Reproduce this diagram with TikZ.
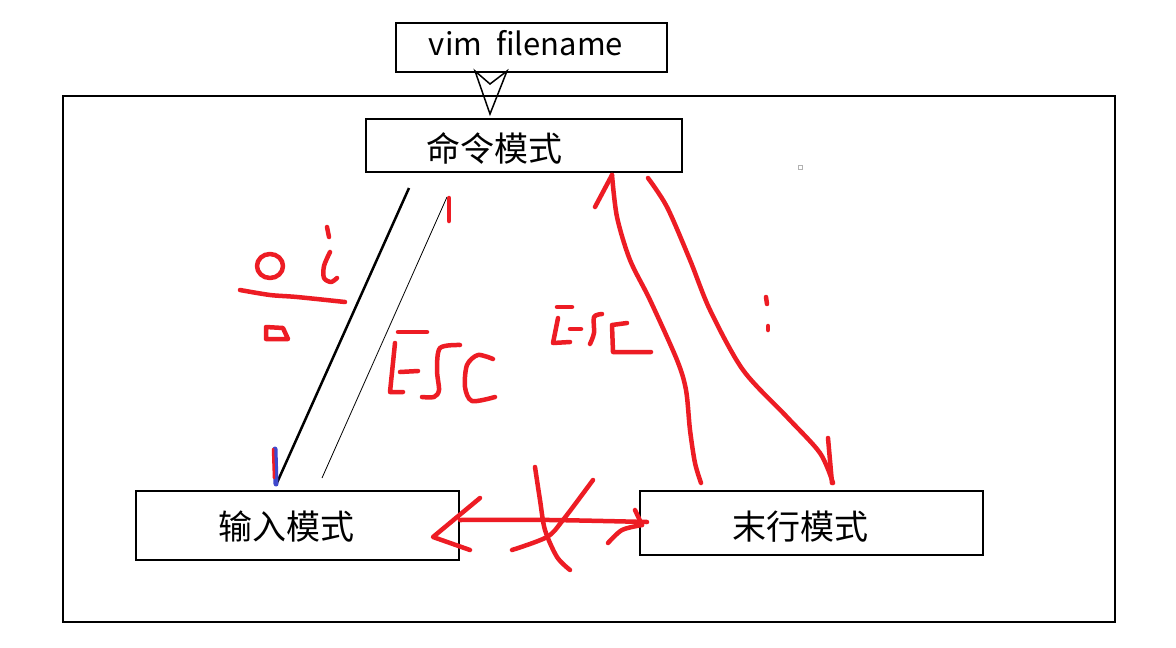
\documentclass[tikz,border=0pt]{standalone}
\usepackage{fontspec}
\setmainfont{Noto Sans CJK SC}
\begin{document}
\begin{tikzpicture}[x=1pt,y=-1pt,
  box/.style={draw=black,line width=2pt,inner sep=0pt},
  lbl/.style={inner sep=0pt,font=\fontsize{34}{34}\selectfont},
  ink/.style={draw=pred,line width=4.5pt,line cap=round,line join=round}]
\definecolor{pred}{RGB}{237,28,36}
\definecolor{pblue}{RGB}{63,72,204}
\useasboundingbox[fill=white] (0,0) rectangle (1176,648);
% frame
\node[box,minimum width=1052pt,minimum height=526pt] (frame) at (589,359) {};
% boxes
\node[box,minimum width=271pt,minimum height=49pt,fill=white] (vim) at (531.5,47.5) {};
\node[lbl,font=\fontsize{31}{31}\selectfont] (vimt) at (526,43) {vim\ \ filename};
\node[box,minimum width=316pt,minimum height=53pt] (cmd) at (524,145.5) {};
\node[lbl] (cmdt) at (494,148) {命令模式};
\node[box,minimum width=323pt,minimum height=69pt] (ins) at (297.5,525.5) {};
\node[lbl] (inst) at (286,527) {输入模式};
\node[box,minimum width=343pt,minimum height=64pt] (last) at (811.5,523) {};
\node[lbl] (lastt) at (800,527) {末行模式};
% open arrow under vim
\draw[line width=1.5pt,line join=miter] (475,71) -- (490,84) -- (507,71) -- (490,114) -- cycle;
% black lines
\coordinate (a1) at (409,188); \coordinate (a2) at (276,485);
\coordinate (b1) at (447,197); \coordinate (b2) at (322,478);
\draw[line width=2.5pt] (a1) -- (a2);
\draw[line width=0.8pt] (b1) -- (b2);
% blue/red tick
\draw[pblue,line width=5pt,line cap=round] (275,449) -- (276,484);
\draw[pred,line width=2.5pt,line cap=round] (273,449) -- (274,478);
% red tick at top of thin line
\draw[ink] (449,198) -- (449,221);
% o i / a
\draw[ink] (270,266) ellipse (13pt and 12pt);
\draw[ink] (327,227) -- (329,237);
\draw[ink] plot[smooth] coordinates {(330,252) (324,266) (324,278) (331,282) (337,278)};
\draw[ink] plot[smooth] coordinates {(240,290) (270,295) (297,297) (345,302)};
\draw[ink] (266,327) -- (283,328) -- (288,339) -- (266,339) -- cycle;
% big ESC
\draw[ink] (398,332) -- (427,332);
\draw[ink] (395,343) -- (390,392) -- (403,392);
\draw[ink] (400,372) -- (418,371);
\draw[ink] plot[smooth] coordinates {(460,345) (440,348) (437,370) (439,390) (434,397) (422,397)};
\draw[ink] plot[smooth] coordinates {(493,359) (478,355) (467,365) (465,387) (472,401) (495,397)};
% small ESC
\draw[ink] (557,307) -- (572,307);
\draw[ink] (558,318) -- (553,343) -- (570,342);
\draw[ink] (570,329) -- (581,329);
\draw[ink] plot[smooth] coordinates {(602,314) (594,317) (594,333) (590,344)};
\draw[ink] (627,323) -- (612,325) -- (613,352) -- (651,352);
% up arrow to cmd
\draw[ink] plot[smooth] coordinates {(701,483) (695,463) (690,430) (686,390) (677,360) (650,300) (630,260) (617,217) (612,175)};
\draw[ink] (612,175) -- (595,207);
% down arrow to last
\draw[ink] plot[smooth] coordinates {(648,178) (667,207) (690,260) (710,310) (743,370) (787,417) (820,453) (833,483)};
\draw[ink] (828,438) -- (832,483);
% colon
\draw[ink] (766,297) -- (767,304);
\draw[ink] (768,326) -- (768,330);
% bottom double arrow
\draw[ink] plot[smooth] coordinates {(460,520) (550,520) (647,522)};
\draw[ink] (480,498) -- (433,537) -- (470,550);
\draw[ink] (635,510) -- (642,525);
\draw[ink] plot[smooth] coordinates {(642,525) (622,530) (608,543)};
\draw[ink] plot[smooth] coordinates {(535,467) (540,500) (545,530) (557,557) (570,570)};
\draw[ink] plot[smooth] coordinates {(593,480) (563,520) (547,537) (512,550)};
% tiny mark
\draw[gray!60,line width=0.7pt] (798,165) rectangle (802,169);
\end{tikzpicture}
\end{document}
